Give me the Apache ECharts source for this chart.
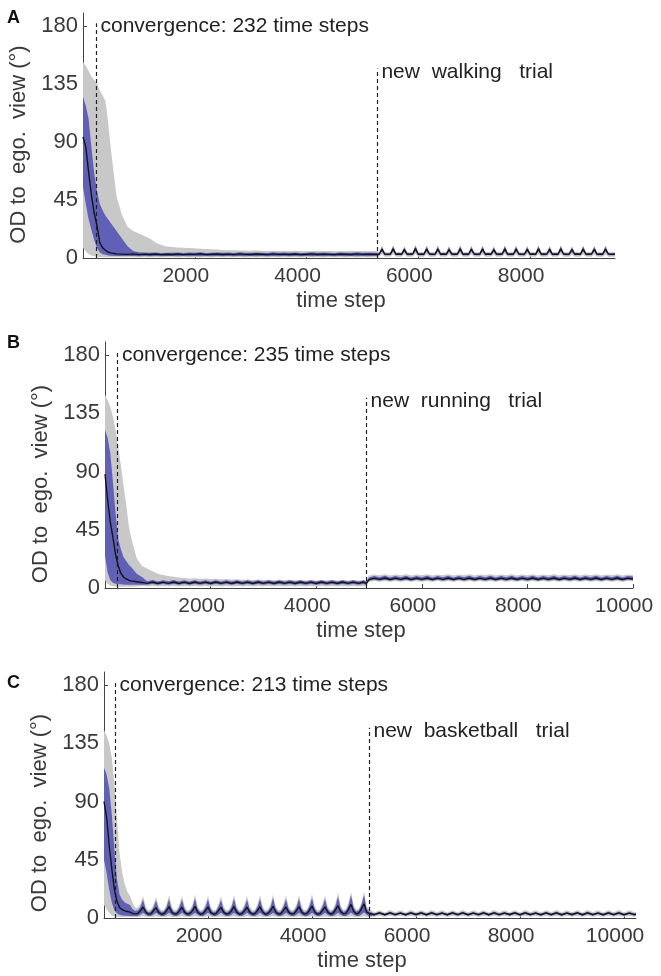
<!DOCTYPE html>
<html><head><meta charset="utf-8">
<script src="https://cdn.jsdelivr.net/npm/echarts@6/dist/echarts.min.js"></script>
<style>html,body{margin:0;padding:0;background:#fff}#c{width:661px;height:976px}</style>
</head><body><div id="c"></div>
<script>
// ---------------- Panel A (walking) ----------------
const tA = [0,50,100,150,200,250,300,350,400,450,500,
600,700,800,900,1000,1100,1200,1300,1400,1500,
1600,1700,1800,1900,2000,2100,2200,2300,2400,2500,
2600,2700,2800,2900,3000,3100,3200,3300,3400,3500,
3600,3700,3800,3900,4000,4100,4200,4300,4400,4500,
4600,4700,4800,4900,5000,5100,5200,5260,
5300,5350,5400,5450,5500,5550,5600,5650,
5700,5750,5800,5850,5900,5950,6000,6050,
6100,6150,6200,6250,6300,6350,6400,6450,
6500,6550,6600,6650,6700,6750,6800,6850,
6900,6950,7000,7050,7100,7150,7200,7250,
7300,7350,7400,7450,7500,7550,7600,7650,
7700,7750,7800,7850,7900,7950,8000,8050,
8100,8150,8200,8250,8300,8350,8400,8450,
8500,8550,8600,8650,8700,8750,8800,8850,
8900,8950,9000,9050,9100,9150,9200,9250,
9300,9350,9400,9450,9500,9520];
const meanA = [94,86,67,49,35,25,12,8,6,4.5,4,
3.2,3,2.8,3.2,2.6,3,2.7,3.1,2.6,2.9,
2.7,3.1,2.6,3,2.8,3.3,2.6,2.9,3.1,2.7,
3,2.6,3.2,2.8,2.7,3.1,2.9,2.6,3.2,2.8,
3,2.7,3.1,2.6,2.9,3.2,2.7,3,2.8,2.6,
3.1,2.9,2.7,3.2,2.8,3,2.9,2.8,
2.9,6.8,3,2.8,3,7.1,2.9,3.1,
2.8,6.5,3,2.9,3.1,7.3,2.8,3,
2.9,6.9,3.1,2.8,3,7,2.9,3.1,
2.8,6.6,3,2.9,3.1,7.2,2.8,3,
2.9,6.8,3.1,2.8,3,7,2.9,3.1,
2.8,6.4,3,2.9,3.1,7.1,2.8,3,
2.9,6.9,3.1,2.8,3,6.7,2.9,3.1,
2.8,7.1,3,2.9,3.1,6.7,2.8,3,
2.9,7.2,3.1,2.8,3,6.5,2.9,3.1,
2.8,7,3,2.9,3.1,6.8,2.8,3,
2.9,7,3.1,2.8,3,2.9];
const blueHiA = [125,118,108,86,66,52,42,37,33,30,27,
21,15,9,5.5,4.5,4.2,4,4.3,3.9,4.1,
4,4.3,3.9,4.2,4,4.4,3.9,4.1,4.3,4,
4.2,3.9,4.4,4.1,4,4.3,4.1,3.9,4.4,4,
4.2,4,4.3,3.9,4.1,4.4,4,4.2,4.1,3.9,
4.3,4.1,4,4.4,4.1,4.2,4.1,4,
3.7,8.7,3.8,3.6,3.8,9.1,3.7,3.9,
3.6,8.4,3.8,3.7,3.9,9.4,3.6,3.8,
3.7,8.9,3.9,3.6,3.8,9,3.7,3.9,
3.6,8.5,3.8,3.7,3.9,9.2,3.6,3.8,
3.7,8.8,3.9,3.6,3.8,9,3.7,3.9,
3.6,8.3,3.8,3.7,3.9,9.1,3.6,3.8,
3.7,8.9,3.9,3.6,3.8,8.6,3.7,3.9,
3.6,9.1,3.8,3.7,3.9,8.6,3.6,3.8,
3.7,9.2,3.9,3.6,3.8,8.4,3.7,3.9,
3.6,9,3.8,3.7,3.9,8.8,3.6,3.8,
3.7,9,3.9,3.6,3.8,3.7];
const blueLoA = [55,42,30,22,14,8,4.5,3,2.5,2,1.8,
1.6,1.5,1.5,1.5,1.4,1.5,1.4,1.5,1.4,1.5,
1.5,1.4,1.5,1.4,1.5,1.4,1.5,1.4,1.5,1.4,
1.5,1.4,1.5,1.4,1.5,1.4,1.5,1.4,1.5,1.4,
1.5,1.4,1.5,1.4,1.5,1.4,1.5,1.4,1.5,1.4,
1.5,1.4,1.5,1.4,1.5,1.4,1.5,1.5,
2.2,5,2.2,2.1,2.2,5.2,2.2,2.3,
2.1,4.8,2.2,2.2,2.3,5.3,2.1,2.2,
2.2,5.1,2.3,2.1,2.2,5,2.2,2.3,
2.1,4.9,2.2,2.2,2.3,5.2,2.1,2.2,
2.2,5,2.3,2.1,2.2,5.1,2.2,2.3,
2.1,4.7,2.2,2.2,2.3,5.1,2.1,2.2,
2.2,5.1,2.3,2.1,2.2,4.9,2.2,2.3,
2.1,5.2,2.2,2.2,2.3,4.9,2.1,2.2,
2.2,5.2,2.3,2.1,2.2,4.8,2.2,2.3,
2.1,5.1,2.2,2.2,2.3,5,2.1,2.2,
2.2,5.1,2.3,2.1,2.2,2.2];
const grayHiA = [152,149,145,141,138,135,130,126,122,105,84,
48,33,24,21,19,17,15,12,10,9,
8.5,8.2,8,7.8,7.5,7.2,7,6.8,6.5,6.3,
6.1,6,5.9,5.8,5.7,5.8,5.6,5.5,5.7,5.5,
5.6,5.4,5.6,5.5,5.3,5.5,5.6,5.4,5.5,5.3,
5.5,5.4,5.6,5.4,5.5,5.3,5.5,5.4,
4.6,9.6,4.7,4.5,4.7,10,4.6,4.8,
4.5,9.2,4.7,4.6,4.8,10.3,4.5,4.7,
4.6,9.8,4.8,4.5,4.7,9.9,4.6,4.8,
4.5,9.4,4.7,4.6,4.8,10.1,4.5,4.7,
4.6,9.7,4.8,4.5,4.7,9.9,4.6,4.8,
4.5,9.2,4.7,4.6,4.8,10,4.5,4.7,
4.6,9.8,4.8,4.5,4.7,9.5,4.6,4.8,
4.5,10,4.7,4.6,4.8,9.5,4.5,4.7,
4.6,10.1,4.8,4.5,4.7,9.3,4.6,4.8,
4.5,9.9,4.7,4.6,4.8,9.7,4.5,4.7,
4.6,9.9,4.8,4.5,4.7,4.6];
const grayLoA = [8,5,3,2,1.5,1,0.8,0.6,0.5,0.5,0.5,
0.5,0.5,0.5,0.5,0.5,0.5,0.5,0.5,0.5,0.5,
0.5,0.5,0.5,0.5,0.5,0.5,0.5,0.5,0.5,0.5,
0.5,0.5,0.5,0.5,0.5,0.5,0.5,0.5,0.5,0.5,
0.5,0.5,0.5,0.5,0.5,0.5,0.5,0.5,0.5,0.5,
0.5,0.5,0.5,0.5,0.5,0.5,0.5,0.5,
1,3,1,1,1,3.1,1,1,
1,2.9,1,1,1,3.2,1,1,
1,3,1,1,1,3,1,1,
1,2.9,1,1,1,3.1,1,1,
1,3,1,1,1,3,1,1,
1,2.8,1,1,1,3.1,1,1,
1,3,1,1,1,2.9,1,1,
1,3.1,1,1,1,2.9,1,1,
1,3.1,1,1,1,2.8,1,1,
1,3,1,1,1,3,1,1,
1,3,1,1,1,1];

// ---------------- Panel B (running) ----------------
const tB = [0,50,100,150,200,250,300,350,400,450,500,
600,700,800,900,1000,1100,1200,1300,1400,1500,
1600,1700,1800,1900,2000,2100,2200,2300,2400,2500,
2600,2700,2800,2900,3000,3100,3200,3300,3400,3500,
3600,3700,3800,3900,4000,4100,4200,4300,4400,4500,
4600,4700,4800,4900,4945,
5000,5100,5200,5300,5400,5500,5600,5700,5800,5900,
6000,6100,6200,6300,6400,6500,6600,6700,6800,6900,
7000,7100,7200,7300,7400,7500,7600,7700,7800,7900,
8000,8100,8200,8300,8400,8500,8600,8700,8800,8900,
9000,9100,9200,9300,9400,9500,9600,9700,9800,9900,
10000];
const meanB = [88,68,51,39,26,17,11.5,8.5,7,6,5.5,
4.8,4.3,3.6,4.6,3.5,4.5,3.6,4.6,3.5,4.5,
3.5,4.6,3.6,4.5,3.5,4.6,3.6,4.5,3.5,4.6,
3.6,4.5,3.5,4.6,3.6,4.5,3.5,4.6,3.6,4.5,
3.5,4.6,3.6,4.5,3.5,4.6,3.6,4.5,3.5,4.6,
3.6,4.5,3.6,4.6,3.4,
6.5,7.6,6.7,7.7,6.6,7.6,6.7,7.7,6.6,7.6,
6.7,7.7,6.6,7.6,6.7,7.7,6.6,7.6,6.7,7.7,
6.6,7.6,6.7,7.7,6.6,7.6,6.7,7.7,6.6,7.6,
6.7,7.7,6.6,7.6,6.7,7.7,6.6,7.6,6.7,7.7,
6.6,7.6,6.7,7.7,6.6,7.6,6.7,7.7,6.6,7.6,
7];
const blueHiB = [122,116,104,82,58,38,30,24,21,18,16,
11,8.5,5.2,6.1,5.1,6,5.2,6.1,5,6,
5,6,5.1,5.9,5,6,5.1,5.9,5,6,
5.1,5.9,5,6,5.1,5.9,5,6,5.1,5.9,
5,6,5.1,5.9,5,6,5.1,5.9,5,6,
5.1,5.9,5,6,4.8,
8.2,9.3,8.3,9.4,8.2,9.3,8.3,9.4,8.2,9.3,
8.3,9.4,8.2,9.3,8.3,9.4,8.2,9.3,8.3,9.4,
8.2,9.3,8.3,9.4,8.2,9.3,8.3,9.4,8.2,9.3,
8.3,9.4,8.2,9.3,8.3,9.4,8.2,9.3,8.3,9.4,
8.2,9.3,8.3,9.4,8.2,9.3,8.3,9.4,8.2,9.3,
8.8];
const blueLoB = [25,12,6,4,3.2,3,2.8,2.7,2.6,2.6,2.6,
2.6,2.6,2.5,3.1,2.5,3.1,2.5,3.1,2.5,3.1,
2.5,3.1,2.5,3.1,2.5,3.1,2.5,3.1,2.5,3.1,
2.5,3.1,2.5,3.1,2.5,3.1,2.5,3.1,2.5,3.1,
2.5,3.1,2.5,3.1,2.5,3.1,2.5,3.1,2.5,3.1,
2.5,3.1,2.5,3.1,2.5,
5.6,6.3,5.6,6.3,5.6,6.3,5.6,6.3,5.6,6.3,
5.6,6.3,5.6,6.3,5.6,6.3,5.6,6.3,5.6,6.3,
5.6,6.3,5.6,6.3,5.6,6.3,5.6,6.3,5.6,6.3,
5.6,6.3,5.6,6.3,5.6,6.3,5.6,6.3,5.6,6.3,
5.6,6.3,5.6,6.3,5.6,6.3,5.6,6.3,5.6,6.3,
6];
const grayHiB = [149,145,140,132,122,109,95,79,65,48,38,
23,17,15,13,11,10,9.2,8.7,8.2,7.8,
7.4,7.6,7.1,7.3,6.9,7.1,6.7,6.9,6.5,6.8,
6.3,6.6,6.2,6.5,6.1,6.4,6,6.3,5.9,6.3,
5.9,6.2,5.8,6.2,5.8,6.1,5.8,6.2,5.7,6.1,
5.8,6.1,5.8,6.2,5.8,
9.7,10.5,9.8,10.6,9.7,10.5,9.8,10.6,9.7,10.5,
9.8,10.6,9.7,10.5,9.8,10.6,9.7,10.5,9.8,10.6,
9.7,10.5,9.8,10.6,9.7,10.5,9.8,10.6,9.7,10.5,
9.8,10.6,9.7,10.5,9.8,10.6,9.7,10.5,9.8,10.6,
9.7,10.5,9.8,10.6,9.7,10.5,9.8,10.6,9.7,10.5,
10];
const grayLoB = [6,3,2,1.5,1.2,1,1,1,1,1,1,
1.2,1.6,1.2,1.6,1.2,1.6,1.2,1.6,1.2,1.6,
1.2,1.6,1.2,1.6,1.2,1.6,1.2,1.6,1.2,1.6,
1.2,1.6,1.2,1.6,1.2,1.6,1.2,1.6,1.2,1.6,
1.2,1.6,1.2,1.6,1.2,1.6,1.2,1.6,1.2,1.6,
1.2,1.6,1.2,1.6,1.2,
4.9,5.4,4.9,5.4,4.9,5.4,4.9,5.4,4.9,5.4,
4.9,5.4,4.9,5.4,4.9,5.4,4.9,5.4,4.9,5.4,
4.9,5.4,4.9,5.4,4.9,5.4,4.9,5.4,4.9,5.4,
4.9,5.4,4.9,5.4,4.9,5.4,4.9,5.4,4.9,5.4,
4.9,5.4,4.9,5.4,4.9,5.4,4.9,5.4,4.9,5.4,
5.2];

// ---------------- Panel C (basketball) ----------------
const tC = [0,50,100,150,200,250,300,350,400,450,
500,550,600,650,700,750,800,850,900,950,
1000,1050,1100,1150,1200,1250,1300,1350,1400,1450,
1500,1550,1600,1650,1700,1750,1800,1850,1900,1950,
2000,2050,2100,2150,2200,2250,2300,2350,2400,2450,
2500,2550,2600,2650,2700,2750,2800,2850,2900,2950,
3000,3050,3100,3150,3200,3250,3300,3350,3400,3450,
3500,3550,3600,3650,3700,3750,3800,3850,3900,3950,
4000,4050,4100,4150,4200,4250,4300,4350,4400,4450,
4500,4550,4600,4650,4700,4750,4800,4850,4900,4950,
5000,5050,5100,
5200,5300,5400,5500,5600,5700,5800,5900,6000,6100,
6200,6300,6400,6500,6600,6700,6800,6900,7000,7100,
7200,7300,7400,7500,7600,7700,7800,7900,8000,8100,
8200,8300,8400,8500,8600,8700,8800,8900,9000,9100,
9200,9300,9400,9500,9600,9700,9800,9900,10000,10100,
10200,10230];
const meanC = [90,78,56,38,22,13,8,6.5,5.5,5,
4.5,3.5,3.2,3.5,5.5,8.5,4.6,3,3.2,5.6,
8,4.4,2.9,3.3,5.4,8.8,4.7,3.1,3.2,5.7,
8.3,4.5,3,3.4,5.5,9,4.6,2.9,3.3,5.6,
8.6,4.4,3.1,3.2,5.8,8.2,4.5,3,3.4,5.5,
8.9,4.7,3,3.3,5.6,8.4,4.5,3.1,3.2,5.7,
8.7,4.6,2.9,3.4,5.5,9.1,4.8,3,3.3,5.9,
8.5,4.5,3.1,3.2,5.6,8.8,4.6,3,3.4,6,
9.2,4.8,3,3.3,5.8,8.6,4.7,3.1,3.5,6.2,
9.5,5,3.2,3.6,6.5,10.5,5.2,3.3,3.8,7,
11,4.5,3.5,
2.6,3.9,2.5,4,2.6,3.8,2.5,4,2.7,3.9,
2.5,4,2.6,3.8,2.5,3.9,2.6,4,2.5,3.8,
2.6,3.9,2.5,4,2.6,3.8,2.7,3.9,2.5,4,
2.6,3.8,2.5,3.9,2.6,4,2.5,3.8,2.7,3.9,
2.5,4,2.6,3.8,2.5,3.9,2.6,4,2.5,3.8,
2.6,3];
const blueHiC = [116,111,100,80,53,30,18,14,12,11,
10,7,5.5,6,8.5,14,7,4.5,5,8,
13.5,7,4.6,5.1,8.2,14.5,7.2,4.5,5,8.3,
14,7,4.4,5.2,8.1,15,7.1,4.6,5,8.4,
14.2,6.9,4.5,5,8.5,13.8,7,4.4,5.2,8.2,
14.8,7.2,4.6,5.1,8.3,14.1,7,4.5,5,8.4,
14.5,7.1,4.4,5.3,8.2,15.2,7.3,4.6,5.1,8.6,
14.3,7,4.6,5,8.3,14.7,7.1,4.5,5.2,8.8,
15.3,7.4,4.5,5.1,8.7,14.4,7.2,4.6,5.4,9,
16.5,7.8,4.8,5.5,9.5,17.5,8,5,5.8,10,
18,7,5,
3.4,4.8,3.3,4.9,3.4,4.7,3.3,4.9,3.5,4.8,
3.3,4.9,3.4,4.7,3.3,4.8,3.4,4.9,3.3,4.7,
3.4,4.8,3.3,4.9,3.4,4.7,3.5,4.8,3.3,4.9,
3.4,4.7,3.3,4.8,3.4,4.9,3.3,4.7,3.5,4.8,
3.3,4.9,3.4,4.7,3.3,4.8,3.4,4.9,3.3,4.7,
3.4,3.8];
const blueLoC = [45,35,22,12,6,3.5,2.5,2,1.8,1.7,
1.6,1.5,1.5,1.6,2.5,4,2.5,1.5,1.5,2.5,
4,2.5,1.5,1.5,2.5,4,2.5,1.5,1.5,2.5,
4,2.5,1.5,1.5,2.5,4,2.5,1.5,1.5,2.5,
4,2.5,1.5,1.5,2.5,4,2.5,1.5,1.5,2.5,
4,2.5,1.5,1.5,2.5,4,2.5,1.5,1.5,2.5,
4,2.5,1.5,1.5,2.5,4,2.5,1.5,1.5,2.5,
4,2.5,1.5,1.5,2.5,4,2.5,1.5,1.5,2.5,
4,2.5,1.5,1.5,2.5,4,2.5,1.5,1.5,2.5,
4,2.5,1.5,1.5,2.5,4.2,2.6,1.6,1.6,2.7,
4.5,2.5,1.5,
1.8,3,1.8,3,1.8,3,1.8,3,1.8,3,
1.8,3,1.8,3,1.8,3,1.8,3,1.8,3,
1.8,3,1.8,3,1.8,3,1.8,3,1.8,3,
1.8,3,1.8,3,1.8,3,1.8,3,1.8,3,
1.8,3,1.8,3,1.8,3,1.8,3,1.8,3,
1.8,2.2];
const grayHiC = [145,141,135,124,104,76,50,35,26,20,
17,12,8,8,11,17,9,6,6.5,10,
16.5,9,6,6.4,10,17.5,9.2,6,6.5,10.4,
17,9,5.8,6.5,10.2,18,9.1,6,6.4,10.5,
17.2,8.9,6,6.3,10.6,16.8,9,5.9,6.6,10.3,
17.8,9.2,6,6.5,10.4,17,9,6,6.4,10.5,
17.5,9.1,5.9,6.7,10.3,18.2,9.3,6.1,6.5,10.7,
17.3,9,6,6.4,10.4,17.7,9.1,6,6.6,10.9,
18.3,9.4,6,6.5,10.8,17.4,9.2,6.1,6.8,11,
19.5,9.8,6.3,7,11.5,20,10,6.5,7.2,12,
20,9,6.5,
4.4,6,4.3,6.1,4.4,5.9,4.3,6.1,4.5,6,
4.3,6.1,4.4,5.9,4.3,6,4.4,6.1,4.3,5.9,
4.4,6,4.3,6.1,4.4,5.9,4.5,6,4.3,6.1,
4.4,5.9,4.3,6,4.4,6.1,4.3,5.9,4.5,6,
4.3,6.1,4.4,5.9,4.3,6,4.4,6.1,4.3,5.9,
4.4,4.6];
const grayLoC = [10,7,4,2,1.2,1,0.8,0.8,0.8,0.8,
0.8,0.8,0.8,0.8,1,1.3,1,0.8,0.8,1,
1.3,1,0.8,0.8,1,1.3,1,0.8,0.8,1,
1.3,1,0.8,0.8,1,1.3,1,0.8,0.8,1,
1.3,1,0.8,0.8,1,1.3,1,0.8,0.8,1,
1.3,1,0.8,0.8,1,1.3,1,0.8,0.8,1,
1.3,1,0.8,0.8,1,1.3,1,0.8,0.8,1,
1.3,1,0.8,0.8,1,1.3,1,0.8,0.8,1,
1.3,1,0.8,0.8,1,1.3,1,0.8,0.8,1,
1.3,1,0.8,0.8,1,1.3,1,0.8,0.8,1,
1.3,1,0.8,
1,1.8,1,1.8,1,1.8,1,1.8,1,1.8,
1,1.8,1,1.8,1,1.8,1,1.8,1,1.8,
1,1.8,1,1.8,1,1.8,1,1.8,1,1.8,
1,1.8,1,1.8,1,1.8,1,1.8,1,1.8,
1,1.8,1,1.8,1,1.8,1,1.8,1,1.8,
1,1.2];

// ---------------- axis ticks / annotations ----------------
const yTicks = [0,45,90,135,180];
const xTicksA = [2000,4000,6000,8000];
const xTicksB = [2000,4000,6000,8000,10000];
const xTicksC = [2000,4000,6000,8000,10000];
const letters = ['A','B','C'];
const convSteps = [232,235,213];
const trialStart = [5260,4945,5095];
const trialNames = ['walking','running','basketball'];
const xMaxes = [9520,10000,10230];

const panels = [
  {t:tA, mean:meanA, bLo:blueLoA, bHi:blueHiA, gLo:grayLoA, gHi:grayHiA, xTicks:xTicksA},
  {t:tB, mean:meanB, bLo:blueLoB, bHi:blueHiB, gLo:grayLoB, gHi:grayHiB, xTicks:xTicksB},
  {t:tC, mean:meanC, bLo:blueLoC, bHi:blueHiC, gLo:grayLoC, gHi:grayHiC, xTicks:xTicksC}
];

const FONT = '"Liberation Sans", Arial, Helvetica, sans-serif';
const grids = [
  {left:83, top:13, width:532, height:245},
  {left:105, top:342, width:528, height:246},
  {left:104, top:672, width:532, height:246}
];
const yNameShift = [9,19,18];
const letterTop = [4,329,669];

function pairs(t, v){ return t.map((x,i)=>[x, v[i]]); }

// shaded band drawn as one polygon through the axis scales (api.coord)
function bandSeries(i, t, lo, hi, color, z){
  return {
    type:'custom', xAxisIndex:i, yAxisIndex:i, silent:true, clip:true, z:z,
    data: t.map((x,k)=>[x, lo[k], hi[k]]),
    encode:{x:0, y:[1,2]},
    renderItem:function(params, api){
      if (params.dataIndex !== 0) return null;
      const pts = [];
      for (let k=0; k<t.length; k++) pts.push(api.coord([t[k], hi[k]]));
      for (let k=t.length-1; k>=0; k--) pts.push(api.coord([t[k], lo[k]]));
      return {type:'polygon', shape:{points:pts}, style:{fill:color, stroke:null}};
    }
  };
}

const option = {animation:false, grid:[], xAxis:[], yAxis:[], series:[], title:[]};
panels.forEach((p,i)=>{
  option.grid.push(Object.assign({containLabel:false}, grids[i]));
  option.title.push({text:letters[i], left:2, top:letterTop[i],
    textStyle:{fontSize:18, fontWeight:'bold', color:'#111', fontFamily:FONT}});
  option.xAxis.push({gridIndex:i, type:'value', min:0, max:xMaxes[i],
    axisLine:{show:true, onZero:false, lineStyle:{color:'#444', width:1}},
    axisTick:{show:true, inside:true, length:4, customValues:p.xTicks, lineStyle:{color:'#444'}},
    axisLabel:{customValues:p.xTicks, formatter:(v)=>String(v), fontSize:21, color:'#3a3a3a', margin:8, fontFamily:FONT, padding:[0,18,0,0]},
    splitLine:{show:false},
    name:'time step', nameLocation:'middle', nameGap:32,
    nameTextStyle:{fontSize:22, color:'#3a3a3a', fontFamily:FONT, padding:[0,16,0,0]}
  });
  option.yAxis.push({gridIndex:i, type:'value', min:0, max:190,
    axisLine:{show:true, onZero:false, lineStyle:{color:'#444', width:1}},
    axisTick:{show:true, inside:true, length:4, customValues:yTicks, lineStyle:{color:'#444'}},
    axisLabel:{customValues:yTicks, formatter:(v)=>String(v), fontSize:22, color:'#3a3a3a', margin:5, fontFamily:FONT},
    splitLine:{show:false},
    name:'OD to  ego.  view (°)', nameLocation:'middle', nameGap:48, nameRotate:90,
    nameTextStyle:{fontSize:22, color:'#3a3a3a', fontFamily:FONT, padding:[0, 2*yNameShift[i], 0, 0]}
  });
  option.series.push(bandSeries(i, p.t, p.gLo, p.gHi, '#c8c8c8', 1));
  option.series.push(bandSeries(i, p.t, p.bLo, p.bHi, '#6060b6', 2));
  const lbl = (txt)=>({show:true, position:'right', distance:4, formatter:txt, fontSize:21, color:'#222', fontFamily:FONT});
  option.series.push({type:'line', xAxisIndex:i, yAxisIndex:i, symbol:'none', silent:true,
    data:pairs(p.t,p.mean), z:5,
    lineStyle:{color:'#141414', width:1.4},
    markLine:{silent:true, symbol:['none','none'], animation:false, label:{show:false},
      lineStyle:{type:[4,3], color:'#222', width:1.2},
      data:[[{coord:[convSteps[i],0]},{coord:[convSteps[i],182]}],
            [{coord:[trialStart[i],0]},{coord:[trialStart[i],147]}]]},
    markPoint:{silent:true, symbol:'rect', symbolSize:1, animation:false, itemStyle:{color:'rgba(0,0,0,0)'},
      data:[{coord:[convSteps[i],180], label:lbl('convergence: '+convSteps[i]+' time steps')},
            {coord:[trialStart[i],144], label:lbl('new  '+trialNames[i]+'   trial')}]}
  });
});
const chart = echarts.init(document.getElementById('c'), null, {renderer:'canvas'});
chart.setOption(option);
</script>
</body></html>
